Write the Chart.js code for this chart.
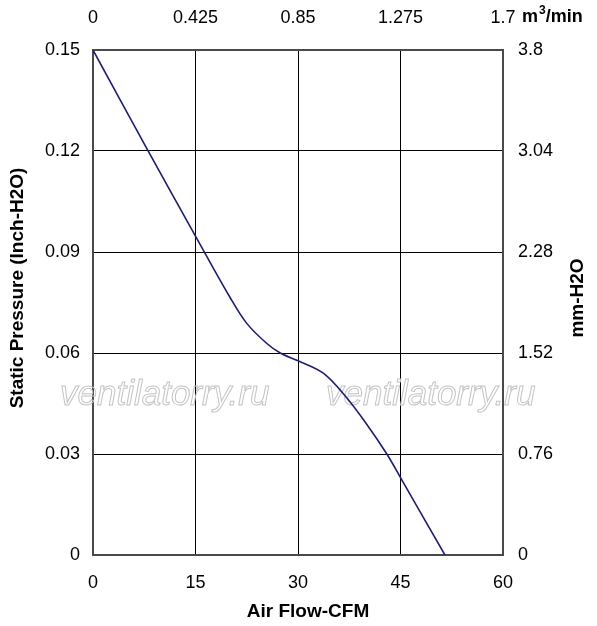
<!DOCTYPE html>
<html>
<head>
<meta charset="utf-8">
<script src="https://cdn.jsdelivr.net/npm/chart.js@4.4.0/dist/chart.umd.min.js"></script>
<style>
    html, body { margin: 0; padding: 0; background: #fff; }
    #wrap { width: 597px; height: 626px; position: relative; }
</style>
</head>
<body>
<div id="wrap"><canvas id="chartPQ"></canvas></div>
<script>
// air flow (CFM) / static pressure (inch H2O)
var flowCfm = [0, 7.8, 15.2, 20, 22.5, 25.4, 27.4, 30, 33.7, 37, 40, 43, 45, 51.5];
var pressInch = [0.15, 0.121, 0.094, 0.0767, 0.0688, 0.0629, 0.06, 0.0577, 0.054, 0.047, 0.039, 0.030, 0.023, 0];

var ticksCfm = [0, 15, 30, 45, 60];
var ticksM3 = [0, 0.425, 0.85, 1.275, 1.7];
var ticksInch = [0, 0.03, 0.06, 0.09, 0.12, 0.15];
var ticksMm = [0, 0.76, 1.52, 2.28, 3.04, 3.8];

var FONT = "'Liberation Sans', Arial, sans-serif";

function fixTicks(list) {
    return function (scale) {
        scale.ticks = list.map(function (v) { return {value: v}; });
    };
}

function fixSize(w, h) {
    return function (scale) {
        if (w) scale.width = w;
        if (h) scale.height = h;
    };
}

function plain(value) {
    return String(value);
}

var points = [];
for (var i = 0; i < flowCfm.length; i++) {
    points.push({x: flowCfm[i], y: pressInch[i]});
}

// watermark, axis titles and the m3/min unit
var extras = {
    id: 'extras',
    beforeDatasetsDraw: function (chart) {
        var ctx = chart.ctx;
        ctx.save();
        ctx.font = "italic 35px " + FONT;
        ctx.strokeStyle = '#c4c4c4';
        ctx.lineWidth = 1;
        ctx.textBaseline = 'alphabetic';
        ctx.strokeText('ventilatorry.ru', 60, 405);
        ctx.strokeText('ventilatorry.ru', 326, 405);
        ctx.restore();
    },
    afterDraw: function (chart) {
        var ctx = chart.ctx;
        ctx.save();
        ctx.fillStyle = '#000';
        ctx.font = "bold 19px " + FONT;
        ctx.textAlign = 'center';
        ctx.textBaseline = 'middle';
        ctx.fillText('Air Flow-CFM', 308, 612);

        ctx.save();
        ctx.translate(18, 288);
        ctx.rotate(-Math.PI / 2);
        ctx.fillText('Static Pressure (Inch-H2O)', 0, 0);
        ctx.restore();

        ctx.save();
        ctx.translate(578, 298);
        ctx.rotate(-Math.PI / 2);
        ctx.fillText('mm-H2O', 0, 0);
        ctx.restore();

        ctx.textAlign = 'left';
        ctx.textBaseline = 'alphabetic';
        ctx.font = "bold 18px " + FONT;
        var x = 522;
        ctx.fillText('m', x, 22);
        x += ctx.measureText('m').width + 1;
        ctx.font = "bold 12px " + FONT;
        ctx.fillText('3', x, 14);
        x += ctx.measureText('3').width;
        ctx.font = "bold 18px " + FONT;
        ctx.fillText('/min', x, 22);
        ctx.restore();
    }
};

var tickFont = {family: FONT, size: 18};

var config = {
    type: 'line',
    data: {
        datasets: [{
            data: points,
            borderColor: '#1c1c7c',
            borderWidth: 1.6,
            pointRadius: 0,
            fill: false,
            tension: 0.35
        }]
    },
    options: {
        responsive: true,
        maintainAspectRatio: false,
        animation: false,
        layout: {padding: 0},
        plugins: {legend: {display: false}, tooltip: {enabled: false}},
        scales: {
            x: {
                type: 'linear', position: 'bottom', min: 0, max: 60,
                afterBuildTicks: fixTicks(ticksCfm),
                afterFit: fixSize(0, 71),
                grid: {color: '#000', lineWidth: 1, drawTicks: false},
                border: {color: '#4a4a4a', width: 2},
                ticks: {color: '#000', font: tickFont, padding: 17, maxRotation: 0, callback: plain}
            },
            x2: {
                type: 'linear', position: 'top', min: 0, max: 1.7,
                afterBuildTicks: fixTicks(ticksM3),
                afterFit: fixSize(0, 50),
                grid: {display: false, drawTicks: false},
                border: {color: '#4a4a4a', width: 2},
                ticks: {color: '#000', font: tickFont, padding: 21, maxRotation: 0, callback: plain}
            },
            y: {
                type: 'linear', position: 'left', min: 0, max: 0.15,
                afterBuildTicks: fixTicks(ticksInch),
                afterFit: fixSize(93, 0),
                grid: {color: '#000', lineWidth: 1, drawTicks: false},
                border: {color: '#4a4a4a', width: 2},
                ticks: {color: '#000', font: tickFont, padding: 13, callback: plain}
            },
            y2: {
                type: 'linear', position: 'right', min: 0, max: 3.8,
                afterBuildTicks: fixTicks(ticksMm),
                afterFit: fixSize(94, 0),
                grid: {display: false, drawTicks: false},
                border: {color: '#4a4a4a', width: 2},
                ticks: {color: '#000', font: tickFont, padding: 15, callback: plain}
            }
        }
    },
    plugins: [extras]
};

new Chart(document.getElementById('chartPQ'), config);
</script>
</body>
</html>
